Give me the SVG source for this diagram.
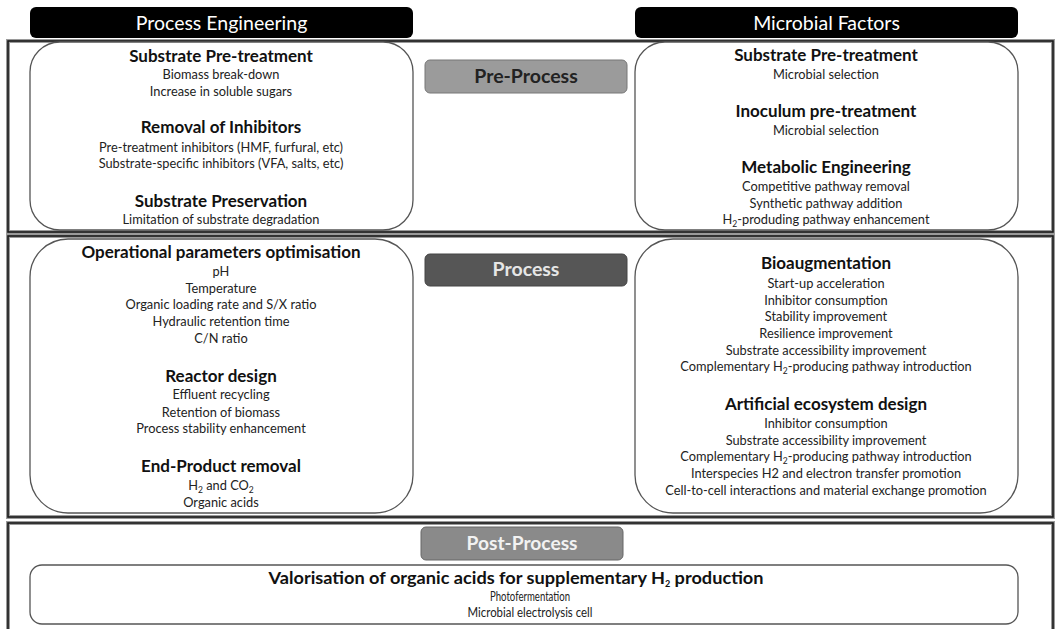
<svg xmlns="http://www.w3.org/2000/svg" width="1056" height="629" viewBox="0 0 1056 629">
<style>
.bg{fill:#ffffff}
.secA{fill:none;stroke:#9a9a9a;stroke-width:4}
.secB{fill:none;stroke:#1a1a1a;stroke-width:1.6}
.box{fill:#ffffff;stroke:#555555;stroke-width:1.3}
.hdr{fill:#000000}
.hdrt{font-family:Lato,"Liberation Sans",sans-serif;font-size:19.5px;fill:#ffffff;text-anchor:middle}
.h{font-family:Lato,"Liberation Sans",sans-serif;font-size:17px;font-weight:bold;fill:#111111;text-anchor:middle}
.b{font-family:Lato,"Liberation Sans",sans-serif;font-size:12.8px;fill:#222222;text-anchor:middle}
.lab{font-family:Lato,"Liberation Sans",sans-serif;font-size:19.5px;font-weight:bold;text-anchor:middle}
.sub{font-size:8.5px}
</style>
<rect class="bg" x="0" y="0" width="1056" height="629"/>
<g id="sections">
<rect class="secA" x="8" y="41" width="1045" height="191"/>
<rect class="secB" x="8" y="41" width="1045" height="191"/>
<rect class="secA" x="8" y="236" width="1045" height="281"/>
<rect class="secB" x="8" y="236" width="1045" height="281"/>
<rect class="secA" x="8" y="523" width="1045" height="120"/>
<rect class="secB" x="8" y="523" width="1045" height="120"/>
</g>
<g id="header-process-engineering">
<rect class="hdr" x="30" y="7" width="383" height="31" rx="6"/>
<text class="hdrt" x="221.5" y="30">Process Engineering</text>
</g>
<g id="header-microbial-factors">
<rect class="hdr" x="635" y="7" width="383" height="31" rx="6"/>
<text class="hdrt" x="826.5" y="30">Microbial Factors</text>
</g>
<g id="pre-process-label">
<rect x="425" y="60" width="202" height="33" rx="5" fill="#9b9b9b" stroke="#777777" stroke-width="1"/>
<text class="lab" x="526" y="83" fill="#222222">Pre-Process</text>
</g>
<g id="process-label">
<rect x="425" y="254" width="202" height="32" rx="5" fill="#565656" stroke="#444444" stroke-width="1"/>
<text class="lab" x="526" y="276" fill="#e6e6e6">Process</text>
</g>
<g id="post-process-label">
<rect x="421" y="527" width="202" height="33" rx="5" fill="#8a8a8a" stroke="#666666" stroke-width="1"/>
<text class="lab" x="522" y="550" fill="#f2f2f2" font-size="20" textLength="111" lengthAdjust="spacingAndGlyphs">Post-Process</text>
</g>
<g id="pre-process-engineering">
<rect class="box" x="30" y="42" width="383" height="188" rx="30"/>
<text class="h" x="221" y="62">Substrate Pre-treatment</text>
<text class="b" x="221" y="79">Biomass break-down</text>
<text class="b" x="221" y="96">Increase in soluble sugars</text>
<text class="h" x="221" y="133">Removal of Inhibitors</text>
<text class="b" x="221" y="152">Pre-treatment inhibitors (HMF, furfural, etc)</text>
<text class="b" x="221" y="168">Substrate-specific inhibitors (VFA, salts, etc)</text>
<text class="h" x="221" y="207">Substrate Preservation</text>
<text class="b" x="221" y="224">Limitation of substrate degradation</text>
</g>
<g id="pre-process-microbial">
<rect class="box" x="635" y="42" width="383" height="188" rx="30"/>
<text class="h" x="826" y="61">Substrate Pre-treatment</text>
<text class="b" x="826" y="79">Microbial selection</text>
<text class="h" x="826" y="117">Inoculum pre-treatment</text>
<text class="b" x="826" y="135">Microbial selection</text>
<text class="h" x="826" y="173">Metabolic Engineering</text>
<text class="b" x="826" y="191">Competitive pathway removal</text>
<text class="b" x="826" y="208">Synthetic pathway addition</text>
<text class="b" x="826" y="224">H<tspan class="sub" dy="3">2</tspan><tspan dy="-3">-produding pathway enhancement</tspan></text>
</g>
<g id="process-engineering">
<rect class="box" x="30" y="239" width="383" height="274" rx="38"/>
<text class="h" x="221" y="258">Operational parameters optimisation</text>
<text class="b" x="221" y="276">pH</text>
<text class="b" x="221" y="293">Temperature</text>
<text class="b" x="221" y="309">Organic loading rate and S/X ratio</text>
<text class="b" x="221" y="326">Hydraulic retention time</text>
<text class="b" x="221" y="343">C/N ratio</text>
<text class="h" x="221" y="382">Reactor design</text>
<text class="b" x="221" y="399">Effluent recycling</text>
<text class="b" x="221" y="417">Retention of biomass</text>
<text class="b" x="221" y="433">Process stability enhancement</text>
<text class="h" x="221" y="472">End-Product removal</text>
<text class="b" x="221" y="490">H<tspan class="sub" dy="3">2</tspan><tspan dy="-3"> and CO</tspan><tspan class="sub" dy="3">2</tspan></text>
<text class="b" x="221" y="507">Organic acids</text>
</g>
<g id="process-microbial">
<rect class="box" x="635" y="239" width="383" height="274" rx="38"/>
<text class="h" x="826" y="269">Bioaugmentation</text>
<text class="b" x="826" y="288">Start-up acceleration</text>
<text class="b" x="826" y="305">Inhibitor consumption</text>
<text class="b" x="826" y="321">Stability improvement</text>
<text class="b" x="826" y="338">Resilience improvement</text>
<text class="b" x="826" y="355">Substrate accessibility improvement</text>
<text class="b" x="826" y="371">Complementary H<tspan class="sub" dy="3">2</tspan><tspan dy="-3">-producing pathway introduction</tspan></text>
<text class="h" x="826" y="410">Artificial ecosystem design</text>
<text class="b" x="826" y="428">Inhibitor consumption</text>
<text class="b" x="826" y="445">Substrate accessibility improvement</text>
<text class="b" x="826" y="461">Complementary H<tspan class="sub" dy="3">2</tspan><tspan dy="-3">-producing pathway introduction</tspan></text>
<text class="b" x="826" y="478">Interspecies H2 and electron transfer promotion</text>
<text class="b" x="826" y="495">Cell-to-cell interactions and material exchange promotion</text>
</g>
<g id="post-process">
<rect class="box" x="30" y="565" width="988" height="59" rx="12"/>
<text class="h" x="516" y="584" textLength="495" lengthAdjust="spacingAndGlyphs">Valorisation  of organic acids for supplementary H<tspan class="sub" dy="3">2</tspan><tspan dy="-3"> production</tspan></text>
<text class="b" x="530" y="601" font-size="11.5" textLength="80" lengthAdjust="spacingAndGlyphs">Photofermentation</text>
<text class="b" x="530" y="617" font-size="11.5" textLength="125" lengthAdjust="spacingAndGlyphs">Microbial electrolysis cell</text>
</g>
<g id="connectors"></g>
</svg>
